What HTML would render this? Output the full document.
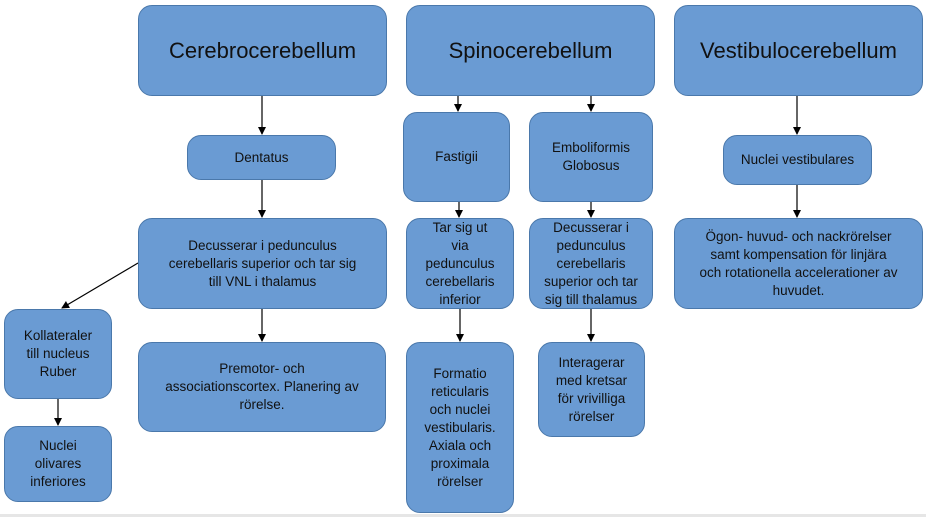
<!DOCTYPE html>
<html><head><meta charset="utf-8"><style>
body{margin:0;width:926px;height:517px;background:#fff;position:relative;overflow:hidden;font-family:"Liberation Sans",sans-serif}
.b{position:absolute;box-sizing:border-box;background:#6a9bd3;border:1.5px solid #4a78ab;border-radius:14px;display:flex;align-items:center;justify-content:center;text-align:center;color:#111;font-size:13.5px;line-height:18px}
.t{font-size:22px;line-height:26px}
svg{position:absolute;left:0;top:0}
</style></head><body>
<svg width="926" height="517">
<defs><marker id="a" markerWidth="8" markerHeight="8" refX="7" refY="4" orient="auto" markerUnits="userSpaceOnUse"><path d="M0,0L8,4L0,8z" fill="#000"/></marker></defs>
<g stroke="#000" stroke-width="1.2" marker-end="url(#a)">
<line x1="262" y1="96" x2="262" y2="134"/>
<line x1="262" y1="180" x2="262" y2="217"/>
<line x1="262" y1="309" x2="262" y2="341"/>
<line x1="138" y1="263" x2="62" y2="308"/>
<line x1="58" y1="399" x2="58" y2="425"/>
<line x1="458" y1="96" x2="458" y2="111"/>
<line x1="591" y1="96" x2="591" y2="111"/>
<line x1="459" y1="202" x2="459" y2="217"/>
<line x1="591" y1="202" x2="591" y2="217"/>
<line x1="460" y1="309" x2="460" y2="341"/>
<line x1="591" y1="309" x2="591" y2="341"/>
<line x1="797" y1="96" x2="797" y2="134"/>
<line x1="797" y1="185" x2="797" y2="217"/>
</g>
<rect x="0" y="514" width="926" height="3" fill="#e6e6e6"/>
</svg>
<div class="b t" style="left:138px;top:5px;width:249px;height:91px">Cerebrocerebellum</div>
<div class="b t" style="left:406px;top:5px;width:249px;height:91px">Spinocerebellum</div>
<div class="b t" style="left:674px;top:5px;width:249px;height:91px">Vestibulocerebellum</div>
<div class="b" style="left:187px;top:135px;width:149px;height:45px">Dentatus</div>
<div class="b" style="left:403px;top:112px;width:107px;height:90px">Fastigii</div>
<div class="b" style="left:529px;top:112px;width:124px;height:90px">Emboliformis<br>Globosus</div>
<div class="b" style="left:723px;top:135px;width:149px;height:50px">Nuclei vestibulares</div>
<div class="b" style="left:138px;top:218px;width:249px;height:91px">Decusserar i pedunculus<br>cerebellaris superior och tar sig<br>till VNL i thalamus</div>
<div class="b" style="left:406px;top:218px;width:108px;height:91px;align-items:flex-start;padding-top:0">Tar sig ut<br>via<br>pedunculus<br>cerebellaris<br>inferior</div>
<div class="b" style="left:529px;top:218px;width:124px;height:91px">Decusserar i<br>pedunculus<br>cerebellaris<br>superior och tar<br>sig till thalamus</div>
<div class="b" style="left:674px;top:218px;width:249px;height:91px">Ögon- huvud- och nackrörelser<br>samt kompensation för linjära<br>och rotationella accelerationer av<br>huvudet.</div>
<div class="b" style="left:4px;top:309px;width:108px;height:90px">Kollateraler<br>till nucleus<br>Ruber</div>
<div class="b" style="left:138px;top:342px;width:248px;height:90px">Premotor- och<br>associationscortex. Planering av<br>rörelse.</div>
<div class="b" style="left:406px;top:342px;width:108px;height:171px">Formatio<br>reticularis<br>och nuclei<br>vestibularis.<br>Axiala och<br>proximala<br>rörelser</div>
<div class="b" style="left:538px;top:342px;width:107px;height:95px">Interagerar<br>med kretsar<br>för vrivilliga<br>rörelser</div>
<div class="b" style="left:4px;top:426px;width:108px;height:76px">Nuclei<br>olivares<br>inferiores</div>
</body></html>
